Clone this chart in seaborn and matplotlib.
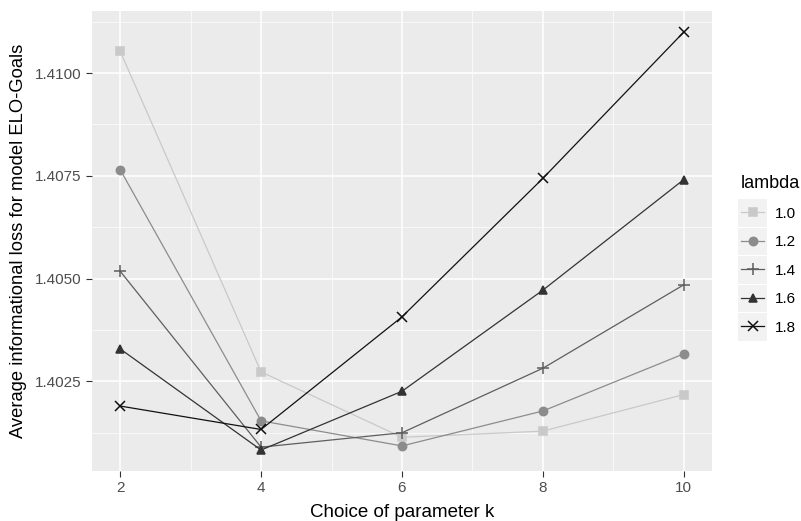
import pandas as pd
import seaborn as sns
import matplotlib.pyplot as plt
from matplotlib.ticker import MultipleLocator
from matplotlib.legend_handler import HandlerLine2D
from matplotlib.patches import Rectangle

# values
k_values = [2, 4, 6, 8, 10]
lambdas = ['1.0', '1.2', '1.4', '1.6', '1.8']
loss_10 = [1.41053, 1.40273, 1.40114, 1.40129, 1.40218]
loss_12 = [1.40765, 1.40154, 1.40093, 1.40178, 1.40317]
loss_14 = [1.40518, 1.40090, 1.40125, 1.40282, 1.40485]
loss_16 = [1.40329, 1.40083, 1.40226, 1.40472, 1.40741]
loss_18 = [1.40190, 1.40133, 1.40407, 1.40744, 1.41100]

df = pd.DataFrame({
    'k': k_values * 5,
    'loss': loss_10 + loss_12 + loss_14 + loss_16 + loss_18,
    'lambda': [l for l in lambdas for _ in k_values],
})

greys = {'1.0': '#c9c9c9', '1.2': '#8c8c8c', '1.4': '#5e5e5e', '1.6': '#333333', '1.8': '#111111'}
shapes = {'1.0': 's', '1.2': 'o', '1.4': '+', '1.6': '^', '1.8': 'x'}
msizes = {'1.0': 5.2, '1.2': 6, '1.4': 8, '1.6': 6, '1.8': 7}


# ggplot-style legend keys: grey box behind each key
class KeyBox(HandlerLine2D):
    def create_artists(self, legend, orig_handle, xdescent, ydescent,
                       width, height, fontsize, trans):
        arts = super().create_artists(legend, orig_handle, xdescent, ydescent,
                                      width, height, fontsize, trans)
        box = Rectangle((-xdescent - 2, -ydescent - 6.5), width + 4, height + 12,
                        facecolor='#f2f2f2', edgecolor='none', transform=trans)
        return [box] + arts


plt.rcParams['font.family'] = ['Liberation Sans', 'DejaVu Sans']

fig = plt.figure(figsize=(8.01, 5.21), dpi=100)
ax = fig.add_axes([92 / 801, 50 / 521, 620 / 801, 460 / 521])
ax.set_facecolor('#ebebeb')

# one call per lambda: filled and line-art markers can't share a style mapping
for lam in lambdas:
    sub = df[df['lambda'] == lam]
    sns.lineplot(data=sub, x='k', y='loss', color=greys[lam], marker=shapes[lam],
                 markersize=msizes[lam], markeredgewidth=1.1, markeredgecolor=greys[lam],
                 markerfacecolor=greys[lam], linewidth=0.9, label=lam, ax=ax)

ax.set_xlim(1.6, 10.4)
ax.set_ylim(1.40032, 1.41151)
ax.set_xticks(k_values)
ax.set_yticks([1.4025, 1.4050, 1.4075, 1.4100])
ax.set_yticklabels(['1.4025', '1.4050', '1.4075', '1.4100'])
ax.xaxis.set_minor_locator(MultipleLocator(1))
ax.yaxis.set_minor_locator(MultipleLocator(0.00125))
ax.grid(which='major', color='white', linewidth=1.1)
ax.grid(which='minor', color='white', linewidth=0.5)
ax.set_axisbelow(True)
for s in ax.spines.values():
    s.set_visible(False)
ax.tick_params(which='major', length=4, color='#333333', labelcolor='#4d4d4d', labelsize=11)
ax.tick_params(which='minor', length=0)

ax.set_xlabel('Choice of parameter k', fontsize=13.5, labelpad=6)
ax.set_ylabel('Average informational loss for model ELO-Goals', fontsize=13.2, labelpad=6)

handles, labels = ax.get_legend_handles_labels()
leg = ax.legend(handles, labels, title='lambda', loc='center left',
                bbox_to_anchor=(1.025, 0.47), frameon=False, fontsize=11,
                title_fontsize=13, handlelength=1.5, labelspacing=0.95,
                handletextpad=0.7,
                handler_map={h: KeyBox() for h in handles})
leg._legend_box.align = 'left'

fig.savefig('out.png', dpi=100)
